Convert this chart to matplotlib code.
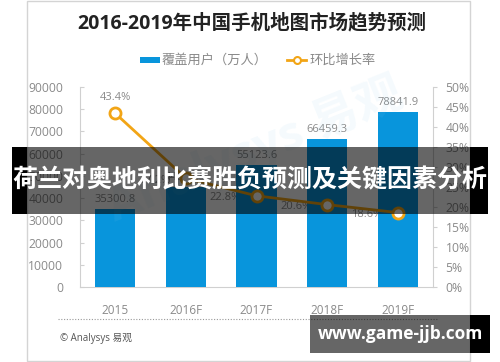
import numpy as np
import matplotlib.pyplot as plt
from matplotlib.patches import Rectangle
from matplotlib.lines import Line2D

plt.rcParams['font.family'] = ['Open Sans', 'Noto Sans CJK SC', 'DejaVu Sans']

# data
years = ['2015', '2016F', '2017F', '2018F', '2019F']
users = [35300.8, 44886.5, 55123.6, 66459.3, 78841.9]   # 覆盖用户（万人）
growth = [43.4, 27.2, 22.8, 20.6, 18.6]                 # 环比增长率 %
left_ticks = [0, 10000, 20000, 30000, 40000, 50000, 60000, 70000, 80000, 90000]
right_ticks = [0, 5, 10, 15, 20, 25, 30, 35, 40, 45, 50]

W, H = 500, 362
BLUE = '#0895dc'
ORANGE = '#f2a516'
GRAY = '#8a8a8a'


def fx(px):
    return px / W


def fy(py):
    return 1 - py / H


fig = plt.figure(figsize=(W / 100, H / 100), dpi=100)
fig.patch.set_facecolor('white')

# card frame
fig.add_artist(Rectangle((fx(27), fy(361)), fx(443), 360 / H, transform=fig.transFigure,
                         fill=False, edgecolor='#d4d4d4', lw=1.0))

fig.text(fx(252), fy(23), '2016-2019年中国手机地图市场趋势预测', ha='center', va='center',
         fontsize=14, fontweight='bold', color='#222222')

# legend
fig.add_artist(Rectangle((fx(140), fy(63)), fx(20), 6 / H, transform=fig.transFigure,
                         facecolor=BLUE, edgecolor='none'))
fig.text(fx(162), fy(60), '覆盖用户（万人）', ha='left', va='center', fontsize=9.5, color=GRAY)
fig.add_artist(Line2D([fx(287), fx(306)], [fy(60), fy(60)], transform=fig.transFigure,
                      color=ORANGE, lw=2))
fig.add_artist(Line2D([fx(296.5)], [fy(60)], transform=fig.transFigure, marker='o',
                      markersize=5, markerfacecolor='white', markeredgecolor=ORANGE, mew=1.5))
fig.text(fx(310), fy(60), '环比增长率', ha='left', va='center', fontsize=9.5, color=GRAY)

# watermark
fig.text(fx(255), fy(150), 'Analysys 易观', ha='center', va='center', fontsize=34,
         rotation=22, color='#8ccbee', alpha=0.09, fontweight='bold')

ax = fig.add_axes([fx(80), fy(287), fx(353), 200 / H])
ax.set_facecolor('none')
x = np.arange(len(years))
bars = ax.bar(x, users, width=0.57, color=BLUE, zorder=3)
ax.set_xlim(-0.5, 4.5)
ax.set_ylim(0, 90000)
ax.set_yticks(left_ticks)
ax.set_xticks(x)
ax.set_xticklabels(years)
for v, xi in zip(users, x):
    ax.text(xi, v + 1800, f'{v:.1f}', ha='center', va='bottom', fontsize=8, color=GRAY, zorder=4)

for s in ['top', 'right']:
    ax.spines[s].set_visible(False)
for s in ['left', 'bottom']:
    ax.spines[s].set_color('#d0d0d0')
ax.tick_params(axis='y', colors='#d0d0d0', labelcolor=GRAY, labelsize=8.7, direction='in',
               length=3, pad=12)
ax.tick_params(axis='x', length=0, labelcolor=GRAY, labelsize=8.5, pad=12)

ax2 = ax.twinx()
ax2.set_ylim(0, 50)
ax2.set_yticks(right_ticks)
ax2.set_yticklabels([f'{t}%' for t in right_ticks])
ax2.plot(x, growth, color=ORANGE, lw=2, marker='o', markersize=8,
         markerfacecolor='white', markeredgecolor=ORANGE, mew=2, zorder=5)
for s in ['top', 'left', 'bottom']:
    ax2.spines[s].set_visible(False)
ax2.spines['right'].set_color('#d0d0d0')
ax2.tick_params(axis='y', colors='#d0d0d0', labelcolor=GRAY, labelsize=8.7, length=3, pad=6)
ax2.text(x[0], growth[0] + 2.6, f'{growth[0]}%', ha='center', va='bottom', fontsize=8, color=GRAY)
# later rate labels sit left of each point, partly tucked behind the bars
for xi, g in zip(x[1:], growth[1:]):
    ax.text(xi - 0.22, g * 1800 - 900, f'{g}%', ha='right', va='center', fontsize=8,
            color=GRAY, zorder=1)

# footer
fig.add_artist(Line2D([fx(58), fx(437)], [fy(319), fy(319)], transform=fig.transFigure,
                      color='#999999', lw=0.8, ls=(0, (1, 1.5))))
fig.text(fx(60), fy(339), '© Analysys 易观', ha='left', va='center', fontsize=7, color='#555555')

# overlay banner
fig.add_artist(Rectangle((fx(12), fy(214)), fx(15), 67 / H, transform=fig.transFigure,
                         facecolor='black', edgecolor='none', zorder=10))
fig.add_artist(Rectangle((fx(470), fy(214)), fx(18), 67 / H, transform=fig.transFigure,
                         facecolor='black', edgecolor='none', zorder=10))
fig.add_artist(Rectangle((fx(27), fy(214)), fx(443), 67 / H, transform=fig.transFigure,
                         facecolor='black', alpha=0.6, edgecolor='none', zorder=10))
fig.text(fx(250), fy(181), '荷兰对奥地利比赛胜负预测及关键因素分析', ha='center', va='center',
         fontsize=18, fontweight='bold', color='white', zorder=11)

# site tag
fig.add_artist(Rectangle((fx(310), fy(353)), fx(160), 38 / H, transform=fig.transFigure,
                         facecolor='black', alpha=0.6, edgecolor='none', zorder=10))
fig.add_artist(Rectangle((fx(470), fy(353)), fx(20), 38 / H, transform=fig.transFigure,
                         facecolor='black', edgecolor='none', zorder=10))
fig.text(fx(400), fy(334), 'www.game-jjb.com', ha='center', va='center', fontsize=12.5,
         fontweight='bold', color='white', zorder=11)

fig.savefig('out.png', dpi=100)
